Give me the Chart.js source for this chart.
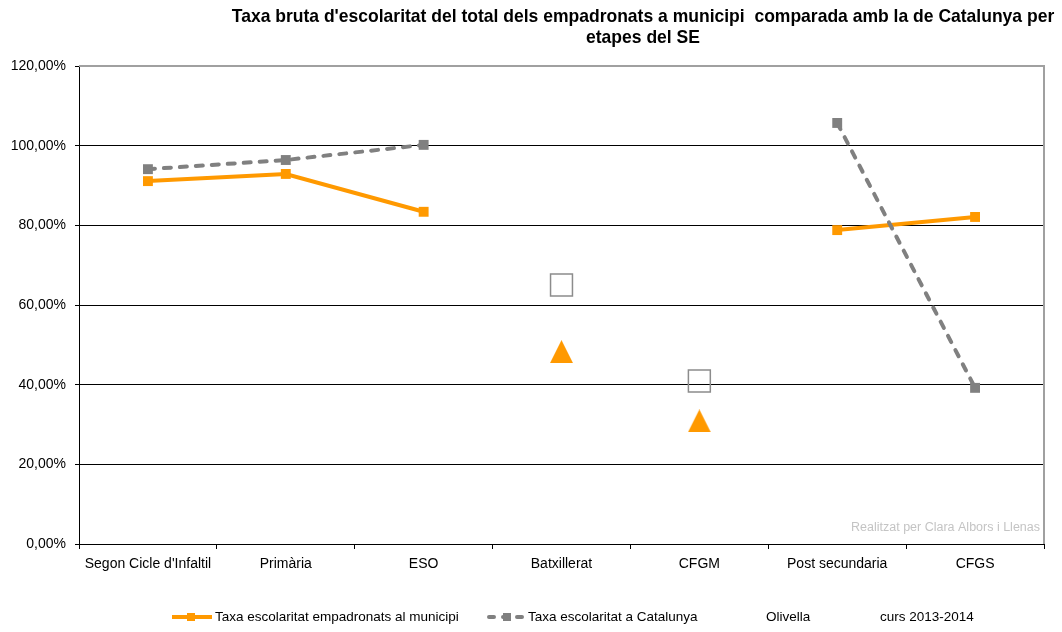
<!DOCTYPE html>
<html>
<head>
<meta charset="utf-8">
<script src="https://cdn.jsdelivr.net/npm/chart.js@4.4.1/dist/chart.umd.min.js"></script>
<style>
  html, body { margin: 0; padding: 0; background: #fff; }
  #wrap { width: 1062px; height: 632px; position: relative; }
</style>
</head>
<body>
<div id="wrap"><canvas id="escolaritatChart"></canvas></div>
<script>
// Dades
const etapes = ["Segon Cicle d'Infaltil", 'Primària', 'ESO', 'Batxillerat', 'CFGM', 'Post secundaria', 'CFGS'];
const municipiLinia = [91.1, 92.9, 83.4, null, null, 78.8, 82.1];
const catalunyaLinia = [94.1, 96.4, 100.2, null, null, 105.7, 39.2];
const municipiSolts = [null, null, null, 48.3, 30.9, null, null];
const catalunyaSolts = [null, null, null, 65.0, 40.9, null, null];
const yTicks = [0, 20, 40, 60, 80, 100, 120];

const titolLinies = ["Taxa bruta d'escolaritat del total dels empadronats a municipi  comparada amb la de Catalunya per", 'etapes del SE'];
const llegenda = ['Taxa escolaritat empadronats al municipi', 'Taxa escolaritat a Catalunya', 'Olivella', 'curs 2013-2014'];
const autoria = 'Realitzat per Clara Albors i Llenas';

const fontFam = "'Liberation Sans', Arial, sans-serif";
const taronja = '#ff9900';
const gris = '#808080';

// triangle marker (Excel style)
const tri = document.createElement('canvas');
tri.width = 23; tri.height = 23;
(function() {
    const c = tri.getContext('2d');
    c.fillStyle = taronja;
    c.beginPath();
    c.moveTo(11.5, 0); c.lineTo(23, 23); c.lineTo(0, 23); c.closePath();
    c.fill();
})();

// Title, legend, watermark and plot border
const decoracio = {
    id: 'decoracio',
    beforeDatasetsDraw(chart) {
        const { ctx, chartArea: a } = chart;
        ctx.save();
        ctx.strokeStyle = '#a0a0a0';
        ctx.lineWidth = 2;
        ctx.beginPath();
        ctx.moveTo(a.left, a.top); ctx.lineTo(a.right, a.top); ctx.lineTo(a.right, a.bottom);
        ctx.stroke();

        ctx.fillStyle = '#c4c4c4';
        ctx.font = "12.5px 'Liberation Sans Narrow', 'Liberation Sans', sans-serif";
        ctx.textAlign = 'right';
        ctx.textBaseline = 'alphabetic';
        ctx.fillText(autoria, a.right - 4, a.bottom - 13);
        ctx.restore();
    },
    afterDraw(chart) {
        const { ctx } = chart;
        ctx.save();
        ctx.fillStyle = '#000';
        ctx.textAlign = 'center';
        ctx.textBaseline = 'middle';
        // title spans ~823px in the reference
        ctx.font = 'bold 15px ' + fontFam;
        const mida = 15 * 823 / ctx.measureText(titolLinies[0]).width;
        ctx.font = 'bold ' + mida.toFixed(2) + 'px ' + fontFam;
        ctx.fillText(titolLinies[0], 643, 17);
        ctx.fillText(titolLinies[1], 643, 38);

        const ly = 617;
        // serie municipi
        ctx.strokeStyle = taronja;
        ctx.lineWidth = 4;
        ctx.beginPath(); ctx.moveTo(172, ly); ctx.lineTo(212, ly); ctx.stroke();
        ctx.fillStyle = taronja;
        ctx.fillRect(187, ly - 4, 8, 8);
        // serie Catalunya
        ctx.strokeStyle = gris;
        ctx.lineCap = 'round';
        ctx.setLineDash([5, 9]);
        ctx.beginPath(); ctx.moveTo(489, ly); ctx.lineTo(525, ly); ctx.stroke();
        ctx.setLineDash([]);
        ctx.fillStyle = gris;
        ctx.fillRect(503, ly - 4, 8, 8);

        ctx.fillStyle = '#000';
        ctx.textAlign = 'left';
        ctx.font = '13.5px ' + fontFam;
        ctx.fillText(llegenda[0], 215, ly);
        ctx.fillText(llegenda[1], 528, ly);
        ctx.fillText(llegenda[2], 766, ly);
        ctx.fillText(llegenda[3], 880, ly);
        ctx.restore();
    }
};

new Chart(document.getElementById('escolaritatChart').getContext('2d'), {
    type: 'line',
    data: {
        labels: etapes,
        datasets: [
            {
                label: llegenda[0],
                data: municipiLinia,
                borderColor: taronja, backgroundColor: taronja,
                borderWidth: 4,
                pointStyle: 'rect', pointRadius: 7, pointBorderWidth: 0,
                tension: 0, order: 2
            },
            {
                label: llegenda[1],
                data: catalunyaLinia,
                borderColor: gris, backgroundColor: gris,
                borderWidth: 4, borderDash: [7, 9], borderCapStyle: 'round',
                pointStyle: 'rect', pointRadius: 7, pointBorderWidth: 0,
                tension: 0, order: 1
            },
            {
                label: 'municipi solts',
                data: municipiSolts,
                showLine: false,
                pointStyle: tri, pointRadius: 12
            },
            {
                label: 'Catalunya solts',
                data: catalunyaSolts,
                showLine: false,
                pointStyle: 'rect', pointRadius: 15.5,
                pointBackgroundColor: 'rgba(255,255,255,0)',
                pointBorderColor: '#8c8c8c', pointBorderWidth: 1.5
            }
        ]
    },
    options: {
        responsive: true, maintainAspectRatio: false,
        animation: false,
        layout: { padding: { top: 66, right: 18, bottom: 48, left: 0 } },
        plugins: {
            legend: { display: false },
            title: { display: false },
            tooltip: { enabled: false }
        },
        scales: {
            x: {
                offset: true,
                grid: { drawOnChartArea: false, drawTicks: true, tickLength: 5, color: '#000', offset: true },
                border: { color: '#000', width: 1 },
                ticks: { color: '#000', font: { family: fontFam, size: 14 }, padding: 7, maxRotation: 0, autoSkip: false },
                afterFit(scale) { scale.height = 40; }
            },
            y: {
                min: 0, max: 120,
                afterBuildTicks(scale) { scale.ticks = yTicks.map(v => ({ value: v })); },
                grid: { color: '#000', lineWidth: 1, drawTicks: true, tickLength: 4 },
                border: { color: '#000', width: 1 },
                ticks: {
                    color: '#000', font: { family: fontFam, size: 14 }, padding: 9,
                    callback: v => v.toFixed(2).replace('.', ',') + '%'
                },
                afterFit(scale) { scale.width = 79; }
            }
        }
    },
    plugins: [decoracio]
});
</script>
</body>
</html>
